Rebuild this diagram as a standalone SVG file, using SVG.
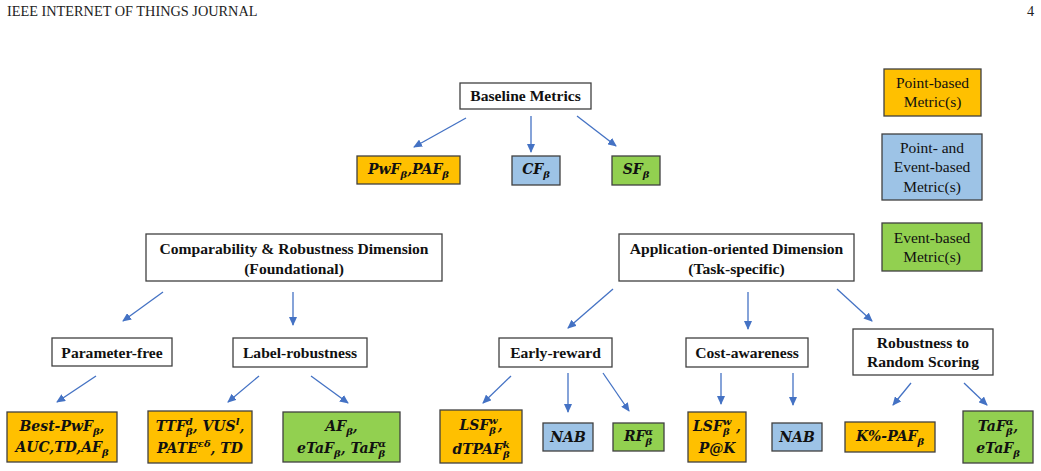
<svg xmlns="http://www.w3.org/2000/svg" width="1041" height="471" viewBox="0 0 1041 471">
<defs>
<marker id="ah" markerWidth="9" markerHeight="8" refX="8" refY="4" orient="auto" markerUnits="userSpaceOnUse">
<path d="M0,0 L9,4 L0,8 Z" fill="#4472C4"/>
</marker>
<style>
.hdr{font-family:"Liberation Serif",serif;font-size:14.3px;fill:#222}
.box{fill:#fff;stroke:#404040;stroke-width:1.3}
.or{fill:#FFC000;stroke:#404040;stroke-width:1.3}
.bl{fill:#9DC3E6;stroke:#404040;stroke-width:1.3}
.gr{fill:#92D050;stroke:#404040;stroke-width:1.3}
.t{font-family:"Liberation Serif",serif;font-weight:bold;font-size:15.6px;fill:#111;text-anchor:middle}
.lg{font-family:"Liberation Serif",serif;font-size:15.5px;fill:#111;text-anchor:middle}
.m{font-family:"DejaVu Serif",serif;font-weight:bold;font-style:italic;font-size:14px;fill:#111;text-anchor:middle}
.s{font-size:10px}
.c line{stroke:#4472C4;stroke-width:1.3;marker-end:url(#ah)}
</style>
</defs>
<rect width="1041" height="471" fill="#fff"/>
<text class="hdr" x="7" y="16">IEEE INTERNET OF THINGS JOURNAL</text>
<text class="hdr" x="1027" y="16">4</text>

<g id="connectors" class="c">
<line x1="466" y1="118" x2="414" y2="147"/>
<line x1="531" y1="116" x2="531" y2="152"/>
<line x1="577" y1="116" x2="616" y2="146"/>
<line x1="163" y1="292" x2="123" y2="321"/>
<line x1="293" y1="292" x2="293" y2="325"/>
<line x1="613" y1="289" x2="568" y2="328"/>
<line x1="748" y1="292" x2="748" y2="329"/>
<line x1="837" y1="289" x2="872" y2="321"/>
<line x1="96" y1="376" x2="57" y2="402"/>
<line x1="259" y1="376" x2="228" y2="402"/>
<line x1="311" y1="376" x2="348" y2="403"/>
<line x1="511" y1="376" x2="483" y2="403"/>
<line x1="568" y1="373" x2="568" y2="412"/>
<line x1="603" y1="373" x2="629" y2="411"/>
<line x1="721" y1="373" x2="721" y2="404"/>
<line x1="793" y1="373" x2="793" y2="405"/>
<line x1="911" y1="383" x2="893" y2="405"/>
<line x1="964" y1="383" x2="987" y2="405"/>
</g>

<g id="legend-point">
<rect class="or" x="884" y="69" width="97" height="47"/>
<text class="lg" x="932.5" y="88">Point-based</text>
<text class="lg" x="932.5" y="107">Metric(s)</text>
</g>
<g id="legend-both">
<rect class="bl" x="882" y="134" width="100" height="66"/>
<text class="lg" x="932" y="153">Point- and</text>
<text class="lg" x="932" y="172">Event-based</text>
<text class="lg" x="932" y="192">Metric(s)</text>
</g>
<g id="legend-event">
<rect class="gr" x="882" y="223" width="100" height="48"/>
<text class="lg" x="932" y="243">Event-based</text>
<text class="lg" x="932" y="262">Metric(s)</text>
</g>

<g id="baseline">
<rect class="box" x="460" y="83" width="131" height="26"/>
<text class="t" x="525.5" y="101">Baseline Metrics</text>
</g>
<g id="pwf">
<rect class="or" x="357" y="156" width="103" height="28"/>
<text class="m" x="408.5" y="174">PwF<tspan class="s" dy="4">β</tspan><tspan dy="-4">,PAF</tspan><tspan class="s" dy="4">β</tspan></text>
</g>
<g id="cf">
<rect class="bl" x="512" y="156" width="48" height="29"/>
<text class="m" x="536" y="174">CF<tspan class="s" dy="4">β</tspan></text>
</g>
<g id="sf">
<rect class="gr" x="612" y="156" width="48" height="29"/>
<text class="m" x="636" y="174">SF<tspan class="s" dy="4">β</tspan></text>
</g>

<g id="comparability">
<rect class="box" x="146" y="234" width="296" height="47"/>
<text class="t" x="294" y="254">Comparability &amp; Robustness Dimension</text>
<text class="t" x="294" y="274">(Foundational)</text>
</g>
<g id="application">
<rect class="box" x="619" y="234" width="235" height="47"/>
<text class="t" x="736.5" y="254">Application-oriented Dimension</text>
<text class="t" x="736.5" y="274">(Task-specific)</text>
</g>

<g id="param-free">
<rect class="box" x="52" y="338" width="120" height="28"/>
<text class="t" x="112" y="358">Parameter-free</text>
</g>
<g id="label-robust">
<rect class="box" x="233" y="338" width="134" height="29"/>
<text class="t" x="300" y="358">Label-robustness</text>
</g>
<g id="early-reward">
<rect class="box" x="499" y="338" width="113" height="29"/>
<text class="t" x="555.5" y="358">Early-reward</text>
</g>
<g id="cost-aware">
<rect class="box" x="686" y="338" width="122" height="29"/>
<text class="t" x="747" y="358">Cost-awareness</text>
</g>
<g id="random-scoring">
<rect class="box" x="853" y="329" width="140" height="46"/>
<text class="t" x="923" y="348">Robustness to</text>
<text class="t" x="923" y="367">Random Scoring</text>
</g>

<g id="best-pwf">
<rect class="or" x="7" y="412" width="110" height="50"/>
<text class="m" x="62" y="431">Best-PwF<tspan class="s" dy="4">β</tspan><tspan dy="-4">,</tspan></text>
<text class="m" x="62" y="452">AUC,TD,AF<tspan class="s" dy="4">β</tspan></text>
</g>
<g id="ttf">
<rect class="or" x="148" y="411" width="104" height="52"/>
<text class="m" x="200" y="431">TTF<tspan class="s" dy="4">β</tspan><tspan class="s" dx="-6.9" dy="-10">d</tspan><tspan dy="6">, VUS</tspan><tspan class="s" dy="-6">l</tspan><tspan dy="6">,</tspan></text>
<text class="m" x="200" y="453">PATE<tspan class="s" dy="-6">εδ</tspan><tspan dy="6">, TD</tspan></text>
</g>
<g id="af">
<rect class="gr" x="283" y="412" width="117" height="50"/>
<text class="m" x="341.5" y="431">AF<tspan class="s" dy="4">β</tspan><tspan dy="-4">,</tspan></text>
<text class="m" x="341.5" y="453">eTaF<tspan class="s" dy="4">β</tspan><tspan dy="-4">, TaF</tspan><tspan class="s" dy="4">β</tspan><tspan class="s" dx="-6.9" dy="-10">α</tspan></text>
</g>
<g id="lsf-dtpaf">
<rect class="or" x="440" y="410" width="82" height="53"/>
<text class="m" x="481" y="430">LSF<tspan class="s" dy="4">β</tspan><tspan class="s" dx="-6.9" dy="-10">w</tspan><tspan dy="6">,</tspan></text>
<text class="m" x="481" y="454">dTPAF<tspan class="s" dy="4">β</tspan><tspan class="s" dx="-6.9" dy="-10">k</tspan></text>
</g>
<g id="nab1">
<rect class="bl" x="543" y="423" width="50" height="28"/>
<text class="m" x="568" y="442">NAB</text>
</g>
<g id="rf">
<rect class="gr" x="613" y="423" width="51" height="28"/>
<text class="m" x="638.5" y="441">RF<tspan class="s" dy="4">β</tspan><tspan class="s" dx="-6.9" dy="-10">α</tspan></text>
</g>
<g id="lsf-pk">
<rect class="or" x="688" y="412" width="58" height="50"/>
<text class="m" x="717" y="431">LSF<tspan class="s" dy="4">β</tspan><tspan class="s" dx="-6.9" dy="-10">w</tspan><tspan dy="6"> ,</tspan></text>
<text class="m" x="717" y="453">P@K</text>
</g>
<g id="nab2">
<rect class="bl" x="772" y="423" width="50" height="28"/>
<text class="m" x="797" y="442">NAB</text>
</g>
<g id="kpaf">
<rect class="or" x="845" y="422" width="90" height="30"/>
<text class="m" x="890" y="441">K%-PAF<tspan class="s" dy="4">β</tspan></text>
</g>
<g id="taf">
<rect class="gr" x="963" y="411" width="70" height="52"/>
<text class="m" x="998" y="431">TaF<tspan class="s" dy="4">β</tspan><tspan class="s" dx="-6.9" dy="-10">α</tspan><tspan dy="6">,</tspan></text>
<text class="m" x="998" y="453">eTaF<tspan class="s" dy="4">β</tspan></text>
</g>
</svg>
